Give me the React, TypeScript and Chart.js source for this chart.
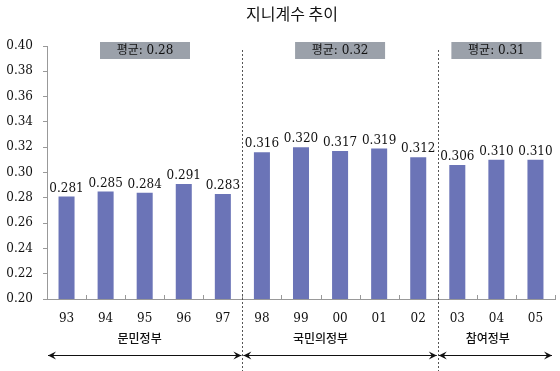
import React, { useEffect, useRef } from "react";
import { Chart, registerables } from "chart.js";

Chart.register(...registerables);

const TITLE = "지니계수 추이";
const YEARS = ["93", "94", "95", "96", "97", "98", "99", "00", "01", "02", "03", "04", "05"];
const GINI = [0.281, 0.285, 0.284, 0.291, 0.283, 0.316, 0.32, 0.317, 0.319, 0.312, 0.306, 0.31, 0.31];
const GROUP_NAMES = ["문민정부", "국민의정부", "참여정부"];
const GROUP_START = [0, 5, 10];
const GROUP_END = [4, 9, 12];
const GROUP_AVG = ["평균: 0.28", "평균: 0.32", "평균: 0.31"];
// fractional category index where each group's name is centred
const GROUP_LABEL_AT = [1.87, 6.5, 10.78];
const Y_MIN = 0.2;
const Y_MAX = 0.4;
const Y_STEP = 0.02;

const NUM_FONT = "'DejaVu Serif', 'Liberation Serif', serif";
const KR_FONT = "'Noto Sans CJK KR', sans-serif";
const MIX_FONT = "'DejaVu Serif', 'Noto Sans CJK KR', serif";

const overlay = {
  id: "overlay",
  afterDatasetsDraw(chart: any) {
    const { ctx, chartArea, scales } = chart;
    const x = scales.x;
    const y = scales.y;
    const step = x.getPixelForValue(1) - x.getPixelForValue(0);
    const boundary = (i: number) => x.getPixelForValue(i) - step / 2;
    ctx.save();

    // title
    ctx.fillStyle = "#111";
    ctx.font = `16px ${KR_FONT}`;
    ctx.textAlign = "center";
    ctx.textBaseline = "middle";
    ctx.fillText(TITLE, 292, 14);

    // value labels
    ctx.font = `12px ${NUM_FONT}`;
    ctx.fillStyle = "#111";
    ctx.textBaseline = "bottom";
    GINI.forEach((v, i) => {
      ctx.fillText(v.toFixed(3), x.getPixelForValue(i), y.getPixelForValue(v) - 2);
    });

    // x-axis small ticks at category boundaries
    ctx.strokeStyle = "#999";
    ctx.lineWidth = 1;
    for (let i = 1; i <= YEARS.length; i++) {
      const px = Math.round(boundary(i)) + 0.5;
      ctx.beginPath();
      ctx.moveTo(px, chartArea.bottom - 4);
      ctx.lineTo(px, chartArea.bottom + 1);
      ctx.stroke();
    }

    // dashed separators
    ctx.strokeStyle = "#555";
    ctx.setLineDash([2, 2]);
    for (let g = 1; g < GROUP_START.length; g++) {
      const px = Math.round(boundary(GROUP_START[g])) + 0.5;
      ctx.beginPath();
      ctx.moveTo(px, 50);
      ctx.lineTo(px, chart.height);
      ctx.stroke();
    }
    ctx.setLineDash([]);

    // average boxes
    GROUP_AVG.forEach((txt, g) => {
      const cx = (x.getPixelForValue(GROUP_START[g]) + x.getPixelForValue(GROUP_END[g])) / 2;
      const w = 90;
      const bx = g === 0 ? 100 : cx - w / 2;
      ctx.fillStyle = "#9ba1aa";
      ctx.fillRect(bx, 42, w, 17);
      ctx.fillStyle = "#111";
      ctx.font = `12px ${MIX_FONT}`;
      ctx.textAlign = "center";
      ctx.textBaseline = "middle";
      ctx.fillText(txt, bx + w / 2, 50.5);
    });

    // group names and arrows
    const arrowY = 355.5;
    GROUP_NAMES.forEach((name, g) => {
      ctx.fillStyle = "#111";
      ctx.font = `500 12px ${KR_FONT}`;
      ctx.textAlign = "center";
      ctx.textBaseline = "middle";
      ctx.fillText(name, x.getPixelForValue(GROUP_LABEL_AT[g]), 338);

      const x0 = (g === 0 ? chartArea.left : boundary(GROUP_START[g])) + 1;
      const x1 = (g === GROUP_NAMES.length - 1 ? chartArea.right - 2 : boundary(GROUP_END[g] + 1)) - 1;
      ctx.strokeStyle = "#111";
      ctx.lineWidth = 1.2;
      ctx.beginPath();
      ctx.moveTo(x0, arrowY);
      ctx.lineTo(x1, arrowY);
      ctx.stroke();
      ctx.fillStyle = "#111";
      ctx.beginPath();
      ctx.moveTo(x0, arrowY);
      ctx.lineTo(x0 + 8, arrowY - 4);
      ctx.lineTo(x0 + 5, arrowY);
      ctx.lineTo(x0 + 8, arrowY + 4);
      ctx.closePath();
      ctx.fill();
      ctx.beginPath();
      ctx.moveTo(x1, arrowY);
      ctx.lineTo(x1 - 8, arrowY - 4);
      ctx.lineTo(x1 - 5, arrowY);
      ctx.lineTo(x1 - 8, arrowY + 4);
      ctx.closePath();
      ctx.fill();
    });

    ctx.restore();
  },
};

export default function App() {
  const ref = useRef<HTMLCanvasElement | null>(null);
  useEffect(() => {
    if (!ref.current) return;
    const chart = new Chart(ref.current, {
      type: "bar",
      data: {
        labels: YEARS,
        datasets: [
          {
            data: GINI,
            backgroundColor: "#6b74b7",
            barPercentage: 0.41,
            categoryPercentage: 1,
          },
        ],
      },
      options: {
        responsive: false,
        animation: false,
        layout: { padding: { top: 46, right: 5, left: 0, bottom: 0 } },
        plugins: { legend: { display: false }, tooltip: { enabled: false }, title: { display: false } },
        scales: {
          x: {
            grid: { display: false, drawTicks: false },
            border: { display: true, color: "#999" },
            ticks: {
              color: "#111",
              font: { family: NUM_FONT, size: 12 },
              padding: 13,
              maxRotation: 0,
            },
            afterFit: (s: any) => {
              s.height = 72;
            },
          },
          y: {
            min: Y_MIN,
            max: Y_MAX,
            grid: { drawOnChartArea: false, tickLength: 4, color: "#999" },
            border: { display: true, color: "#999" },
            ticks: {
              stepSize: Y_STEP,
              color: "#111",
              font: { family: NUM_FONT, size: 12 },
              padding: 10,
              callback: (v: any) => Number(v).toFixed(2),
            },
            afterFit: (s: any) => {
              s.width = 47;
            },
          },
        },
      },
      plugins: [overlay],
    });
    return () => chart.destroy();
  }, []);
  return (
    <div style={{ position: "fixed", left: 0, top: 0, width: 560, height: 371, background: "#fff" }}>
      <canvas ref={ref} width={560} height={371} />
    </div>
  );
}
